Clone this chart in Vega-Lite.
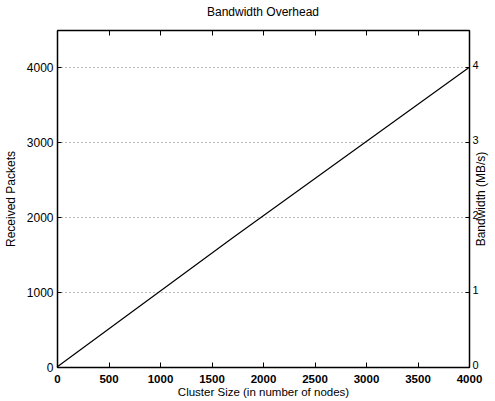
{
  "$schema": "https://vega.github.io/schema/vega-lite/v6.json",
  "width": 412,
  "height": 337,
  "autosize": "none",
  "padding": {"left": 57, "top": 30, "right": 26, "bottom": 34},
  "background": "white",
  "config": {
    "font": "Liberation Sans",
    "view": {"stroke": "black", "strokeWidth": 1},
    "axis": {"domainColor": "black", "tickColor": "black", "labelColor": "black", "titleColor": "black", "labelFontSize": 12, "titleFontSize": 12, "titleFontWeight": "normal", "domainWidth": 1.5, "format": "d"}
  },
  "title": {"text": "Bandwidth Overhead", "fontSize": 12, "fontWeight": "normal", "font": "Liberation Sans", "offset": 11, "color": "black"},
  "data": {"values": [
    {"nodes": 0, "packets": 0, "bandwidth": 0},
    {"nodes": 1700, "packets": 1720, "bandwidth": 1.72},
    {"nodes": 4000, "packets": 4000, "bandwidth": 4.0}
  ]},
  "layer": [
    {
      "mark": {"type": "line", "color": "black", "strokeWidth": 1.2},
      "encoding": {
        "x": {"field": "nodes", "type": "quantitative", "scale": {"domain": [0, 4000], "nice": false},
              "axis": {"orient": "bottom", "title": "Cluster Size (in number of nodes)", "values": [0,500,1000,1500,2000,2500,3000,3500,4000], "tickSize": -5, "labelPadding": 11, "labelFontWeight": "bold", "labelFontSize": 11.5, "labelBaseline": "top", "grid": false, "titlePadding": 2, "titleFontSize": 11.5, "labelFlush": false}},
        "y": {"field": "packets", "type": "quantitative", "scale": {"domain": [0, 4500], "nice": false},
              "axis": {"orient": "left", "title": "Received Packets", "values": [0,1000,2000,3000,4000], "tickSize": -4, "labelPadding": 8, "grid": true, "gridColor": "#777777", "gridDash": [1, 3], "gridWidth": 1, "titlePadding": 9}}
      }
    },
    {
      "mark": {"type": "line", "opacity": 0},
      "encoding": {
        "x": {"field": "nodes", "type": "quantitative", "scale": {"domain": [0, 4000], "nice": false},
              "axis": {"orient": "top", "title": null, "labels": false, "values": [0,500,1000,1500,2000,2500,3000,3500,4000], "tickSize": -5, "grid": false}},
        "y": {"field": "bandwidth", "type": "quantitative", "scale": {"domain": [0, 4.5], "nice": false},
              "axis": {"orient": "right", "title": "Bandwidth (MB/s)", "titleAngle": 270, "values": [0,1,2,3,4], "tickSize": -4, "labelPadding": 7, "labelFontSize": 11, "labelOffset": -2, "grid": false, "titlePadding": 9}}
      }
    }
  ],
  "resolve": {"scale": {"y": "independent"}, "axis": {"x": "independent", "y": "independent"}}
}
